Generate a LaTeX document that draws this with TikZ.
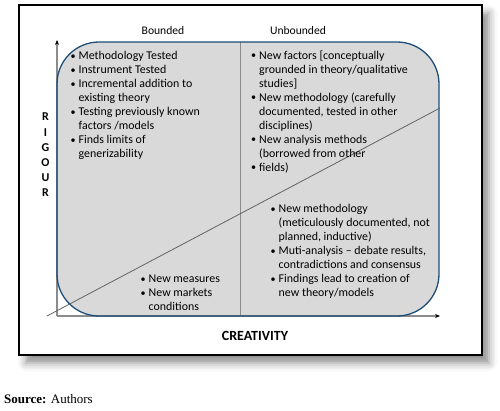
\documentclass[tikz,border=0pt]{standalone}
\usepackage{fontspec}
\setmainfont{Carlito}
\newfontfamily\srcfont{Liberation Serif}
\usepackage{xcolor}
\usetikzlibrary{arrows.meta,shadows.blur}

\definecolor{boxfill}{HTML}{D9D9D9}
\definecolor{boxline}{HTML}{1F4E79}
\definecolor{axisgray}{HTML}{8C8C8C}

\newcommand{\bul}{\makebox[8pt][l]{\raisebox{0.3pt}{\scalebox{0.85}{\textbullet}}}}
\newcommand{\ind}{\hspace*{8pt}}

\begin{document}
\begin{tikzpicture}[x=1pt, y=-1pt,
  lst/.style={font=\fontsize{11.9}{14}\selectfont, align=left, anchor=north west, inner sep=0pt},
  lbl/.style={font=\fontsize{11.6}{14}\selectfont, anchor=base, inner sep=0pt},
  axis/.style={axisgray, line width=1.3pt, -{Stealth[length=5pt, width=4pt, black]}}]
  \useasboundingbox (0,0) rectangle (500,411);
  % frame with shadow
  \path[draw=black, line width=1.5pt, fill=white,
    blur shadow={shadow xshift=7pt, shadow yshift=-8pt, shadow blur radius=8pt, shadow opacity=45}]
    (19,5) rectangle (482,355);
  \coordinate (o) at (57,316);
  \coordinate (ytop) at (57,40);
  \coordinate (xend) at (440,316);
  \coordinate (divtop) at (240,42);
  \coordinate (divbot) at (240,316);
  \coordinate (dstart) at (47,316);
  \coordinate (dend) at (440,108);
  % quadrant box
  \fill[boxfill, rounded corners=42pt] (57,42) rectangle (439,316);
  \draw[axisgray, line width=0.9pt] (divtop) -- (divbot);
  \draw[axis] (o) -- (ytop);
  \draw[axis] (o) -- (xend);
  \draw[boxline, line width=1.3pt, rounded corners=42pt] (57,42) rectangle (439,316);
  \draw[axisgray!70!black, line width=0.8pt] (dstart) -- (dend);
  % lists
  \node[lst] (bounded) at (70.5,51) {\bul Methodology Tested\\
    \bul Instrument Tested\\
    \bul Incremental addition to\\
    \ind existing theory\\
    \bul Testing previously known\\
    \ind factors /models\\
    \bul Finds limits of\\
    \ind generizability};
  \node[lst] (unbounded) at (251,50.5) {\bul New factors [conceptually\\
    \ind grounded in theory/qualitative\\
    \ind studies]\\
    \bul New methodology (carefully\\
    \ind documented, tested in other\\
    \ind disciplines)\\
    \bul New analysis methods\\
    \ind (borrowed from other\\
    \bul fields)};
  \node[lst] (creative) at (270.5,204) {\bul New methodology\\
    \ind (meticulously documented, not\\
    \ind planned, inductive)\\
    \bul Muti-analysis – debate results,\\
    \ind contradictions and consensus\\
    \bul Findings lead to creation of\\
    \ind new theory/models};
  \node[lst] (measures) at (140.5,275) {\bul New measures\\
    \bul New markets\\
    \ind conditions};
  % axis labels
  \node[lbl] (bnd) at (163,35) {Bounded};
  \node[lbl] (unbnd) at (298,35) {Unbounded};
  \node[font=\fontsize{12}{15.2}\selectfont\bfseries, align=center, anchor=north, inner sep=0pt] (rigour) at (45.5,113) {R\\I\\G\\O\\U\\R};
  \node[lbl, font=\fontsize{14}{17}\selectfont\bfseries] (creativity) at (255,340) {CREATIVITY};
  \node[anchor=base west, inner sep=0pt, font=\srcfont\fontsize{13}{15}\selectfont] (source) at (4,403.5) {\textbf{Source:} Authors};
\end{tikzpicture}
\end{document}
